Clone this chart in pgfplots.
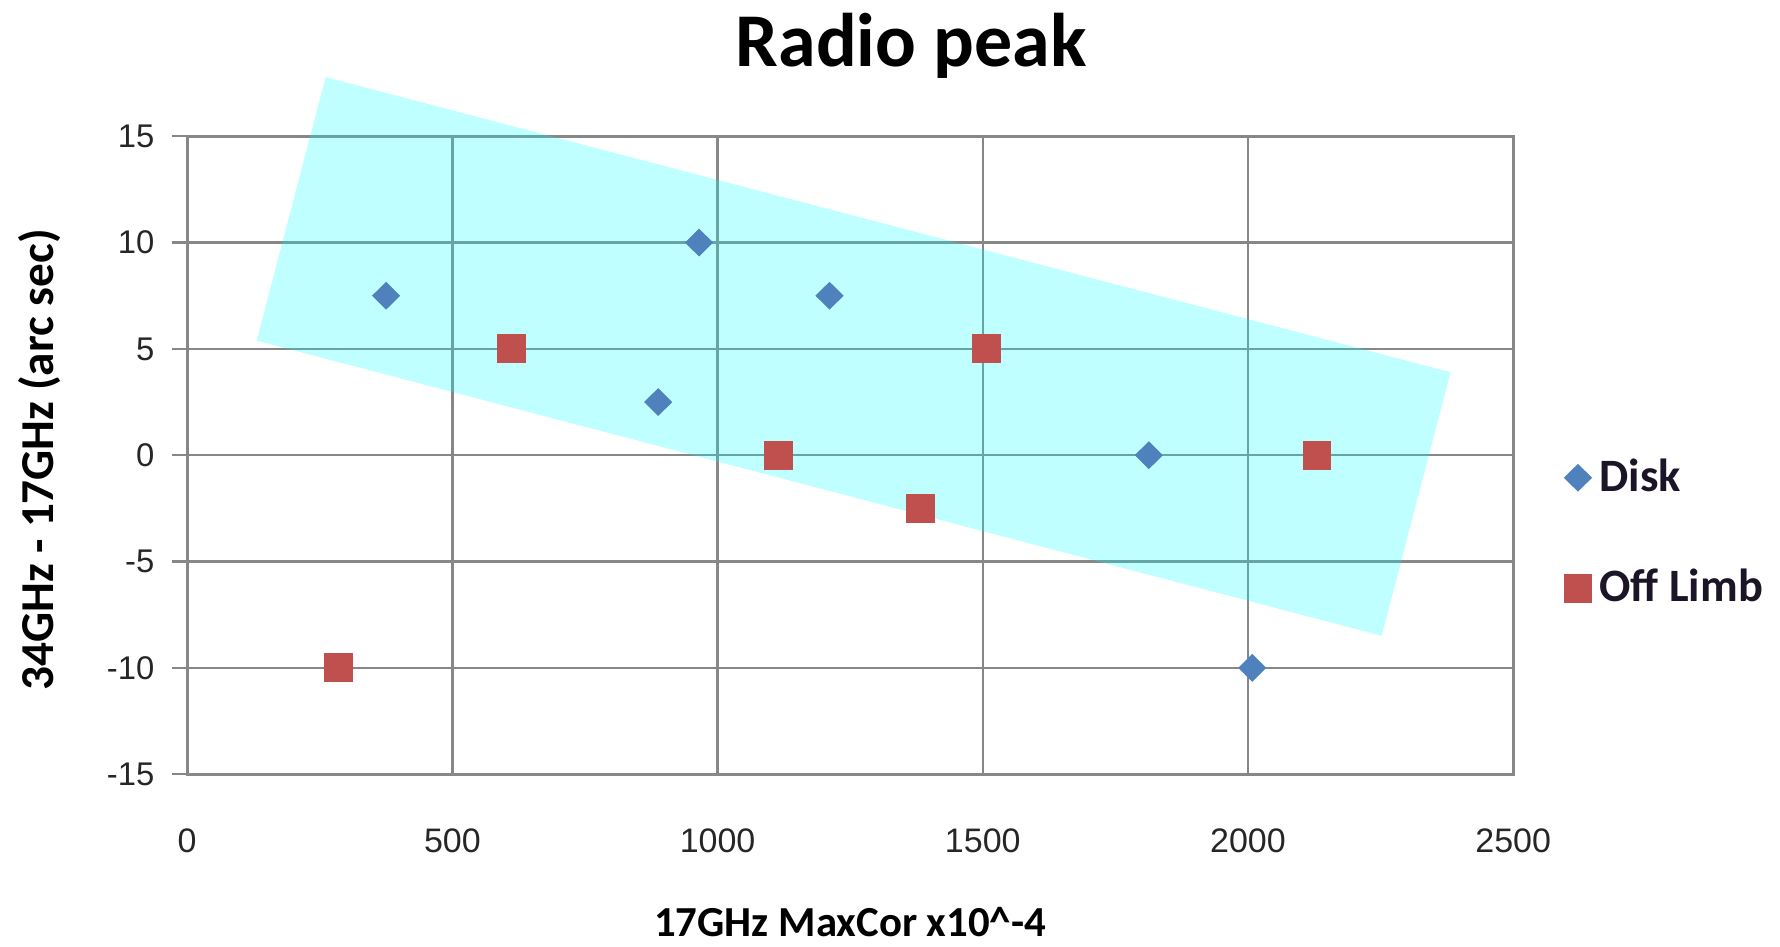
\documentclass[border=0pt]{standalone}
\usepackage{fontspec}
\setmainfont{Carlito}
\newfontfamily\tickfont{Liberation Sans}
\usepackage{pgfplots}
\pgfplotsset{compat=1.18}
\definecolor{diskblue}{HTML}{4F81BD}
\definecolor{limbred}{HTML}{C0504D}
\definecolor{gridgray}{HTML}{878787}
\definecolor{legtext}{HTML}{1C1528}
\definecolor{cyanrgb}{RGB}{0,255,255}
\begin{document}
\begin{tikzpicture}
\path[use as bounding box] (0,0) rectangle (445pt,236.5pt);
\begin{axis}[
  at={(46.8pt,42.95pt)}, anchor=south west,
  scale only axis, width=331.5pt, height=159.5pt,
  xmin=0, xmax=2500, ymin=-15, ymax=15,
  xtick={0,500,...,2500}, ytick={-15,-10,...,15},
  grid=major, grid style={gridgray, line width=0.6pt},
  axis line style={gridgray, line width=0.7pt},
  ytick style={gridgray, line width=0.6pt},
  xtick style={draw=none},
  ytick pos=left, tick align=outside, major tick length=3.7pt,
  clip=false,
  /pgf/number format/assume math mode=true,
  /pgf/number format/1000 sep={},
  yticklabel style={font=\tickfont\fontsize{8.2}{9}\selectfont, color=black!85, xshift=-1pt},
  xticklabel style={font=\tickfont\fontsize{8.5}{9}\selectfont, color=black!85, anchor=center, yshift=-13pt},
  title={Radio peak},
  title style={font=\fontsize{19}{22}\selectfont\bfseries, at={(0.546,1.104)}, anchor=center},
  xlabel={17GHz MaxCor x10\textasciicircum-4},
  xlabel style={font=\fontsize{10.7}{12}\selectfont\bfseries, at={(0.5,-0.232)}, anchor=center},
  ylabel={34GHz - 17GHz (arc sec)},
  ylabel style={font=\fontsize{11.8}{13}\selectfont\bfseries, at={(-0.1113,0.493)}, anchor=center},
  legend style={at={(1.038,0.378)}, anchor=west, draw=none, fill=none,
    font=\fontsize{11.6}{13}\selectfont\bfseries, text=legtext,
    row sep=14pt, inner sep=0pt},
  legend cell align=left,
  legend image code/.code={\draw[mark repeat=2, mark phase=2, #1] plot coordinates {(0cm,0cm) (0.13cm,0cm) (0.26cm,0cm)};},
]
\addplot[only marks, mark=diamond*, mark size=3.2pt, mark options={fill=diskblue, draw=diskblue, xscale=1.35}]
  coordinates {(375,7.5) (965,10) (888,2.5) (1211,7.5) (1813,0) (2008,-10)};
\addlegendentry{Disk}
\addplot[only marks, mark=square*, mark size=3.4pt, mark options={fill=limbred, draw=limbred}]
  coordinates {(285,-10) (612,5) (1115,0) (1383,-2.5) (1507,5) (2130,0)};
\addlegendentry{Off Limb}
\addplot[draw=none, fill=cyanrgb, fill opacity=0.25, forget plot]
  coordinates {(261,17.78) (2382,3.90) (2252,-8.49) (131,5.39)} -- cycle;
\end{axis}
\end{tikzpicture}
\end{document}
